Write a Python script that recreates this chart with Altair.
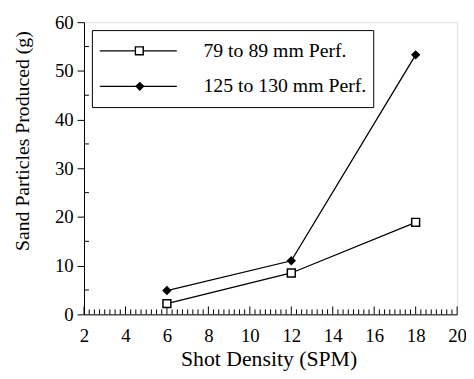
import altair as alt
import pandas as pd
import numpy as np

series_names = ["79 to 89 mm Perf.", "125 to 130 mm Perf."]
shot_density = [6, 12, 18]
small_perf = [2.2, 8.5, 18.9]
large_perf = [4.9, 11.0, 53.3]

x_major = [2, 4, 6, 8, 10, 12, 14, 16, 18, 20]
x_minor = [float(v) for v in np.arange(2, 20.001, 0.25) if v % 2 != 0]
y_major = [0, 10, 20, 30, 40, 50, 60]
y_minor = [5, 15, 25, 35, 45, 55]

W, H = 378, 296
FONT = "Liberation Serif"

rows = []
for name, vals in zip(series_names, [small_perf, large_perf]):
    for x, y in zip(shot_density, vals):
        rows.append({"x": x, "y": y, "series": name, "marker": name})
df = pd.DataFrame(rows)
df_a = df[df["series"] == series_names[0]]
df_b = df[df["series"] == series_names[1]]

xs = alt.Scale(domain=[2, 20], nice=False, zero=False)
ys = alt.Scale(domain=[0, 60], nice=False)

x_axis = alt.Axis(values=x_major, ticks=False, tickSize=0, grid=False,
                  labelFont=FONT, labelFontSize=19, labelColor="black",
                  labelPadding=28, labelBaseline="alphabetic",
                  labelFlush=False, domainColor="black",
                  title="Shot Density (SPM)", titleFont=FONT, titleFontSize=22,
                  titleFontWeight="normal", titleColor="black",
                  titleBaseline="alphabetic", titleY=52, titleX=187)
y_axis = alt.Axis(values=y_major, tickSize=7, tickColor="black", grid=False,
                  labelFont=FONT, labelFontSize=19, labelColor="black",
                  labelPadding=4, labelFlush=False, domainColor="black",
                  title="Sand Particles Produced (g)", titleFont=FONT,
                  titleFontSize=20, titleFontWeight="normal", titleColor="black",
                  titleBaseline="middle", titleAlign="center",
                  titleX=-62, titleY=120, titleAngle=-90)

lines = alt.Chart(df).mark_line(strokeWidth=1.3).encode(
    x=alt.X("x:Q", scale=xs, axis=x_axis),
    y=alt.Y("y:Q", scale=ys, axis=y_axis),
    color=alt.Color("series:N",
                    scale=alt.Scale(domain=series_names, range=["black", "black"]),
                    legend=alt.Legend(title=None, orient="none", legendX=8, legendY=8,
                                      strokeColor="black", fillColor="white",
                                      padding=7, symbolType="stroke",
                                      symbolSize=78 * 78, symbolStrokeWidth=1.3,
                                      labelFont=FONT, labelFontSize=20,
                                      labelColor="black", labelOffset=26,
                                      labelLimit=400,
                                      clipHeight=28, rowPadding=8, zindex=0,
                                      labelExpr="datum.label + '\u00a0\u00a0\u00a0\u00a0\u00a0'")),
)

leg_a = alt.Legend(title=None, orient="none", legendX=51, legendY=15, padding=0,
                   symbolType="square", symbolStrokeWidth=1.5,
                   symbolFillColor="white", symbolSize=64,
                   labelExpr="''", clipHeight=28, zindex=1)
leg_b = alt.Legend(title=None, orient="none", legendX=51, legendY=51, padding=0,
                   symbolFillColor="black", symbolSize=90,
                   labelExpr="''", clipHeight=28, zindex=1)

squares = alt.Chart(df_a).mark_point(shape="square", filled=False, fill="white",
                                     strokeWidth=1.5, size=64, opacity=1).encode(
    x=alt.X("x:Q", scale=xs),
    y=alt.Y("y:Q", scale=ys),
    stroke=alt.Stroke("marker:N", scale=alt.Scale(domain=[series_names[0]], range=["black"]),
                      legend=leg_a),
)

diamonds = alt.Chart(df_b).mark_point(filled=True, color="black", size=90,
                                      opacity=1).encode(
    x=alt.X("x:Q", scale=xs),
    y=alt.Y("y:Q", scale=ys),
    shape=alt.Shape("marker:N", scale=alt.Scale(domain=[series_names[1]], range=["diamond"]),
                    legend=leg_b),
)

xmaj = alt.Chart(pd.DataFrame({"v": x_major})).mark_rule(color="black", strokeWidth=1).encode(
    x=alt.X("v:Q", scale=xs), y=alt.value(H), y2=alt.value(H - 8))
xmin = alt.Chart(pd.DataFrame({"v": x_minor})).mark_rule(color="black", strokeWidth=1).encode(
    x=alt.X("v:Q", scale=xs), y=alt.value(H), y2=alt.value(H - 5))
ymin = alt.Chart(pd.DataFrame({"v": y_minor})).mark_rule(color="black", strokeWidth=1).encode(
    y=alt.Y("v:Q", scale=ys), x=alt.value(0), x2=alt.value(5))

chart = alt.layer(xmin, xmaj, ymin, lines, squares, diamonds).properties(
    width=W, height=H,
    autosize=alt.AutoSizeParams(type="none"),
    padding={"left": 77, "top": 12, "right": 9, "bottom": 55},
).configure_view(stroke="black", strokeWidth=1).configure(background="white")

chart.save("out.html", embed_options={"renderer": "svg", "actions": False})
